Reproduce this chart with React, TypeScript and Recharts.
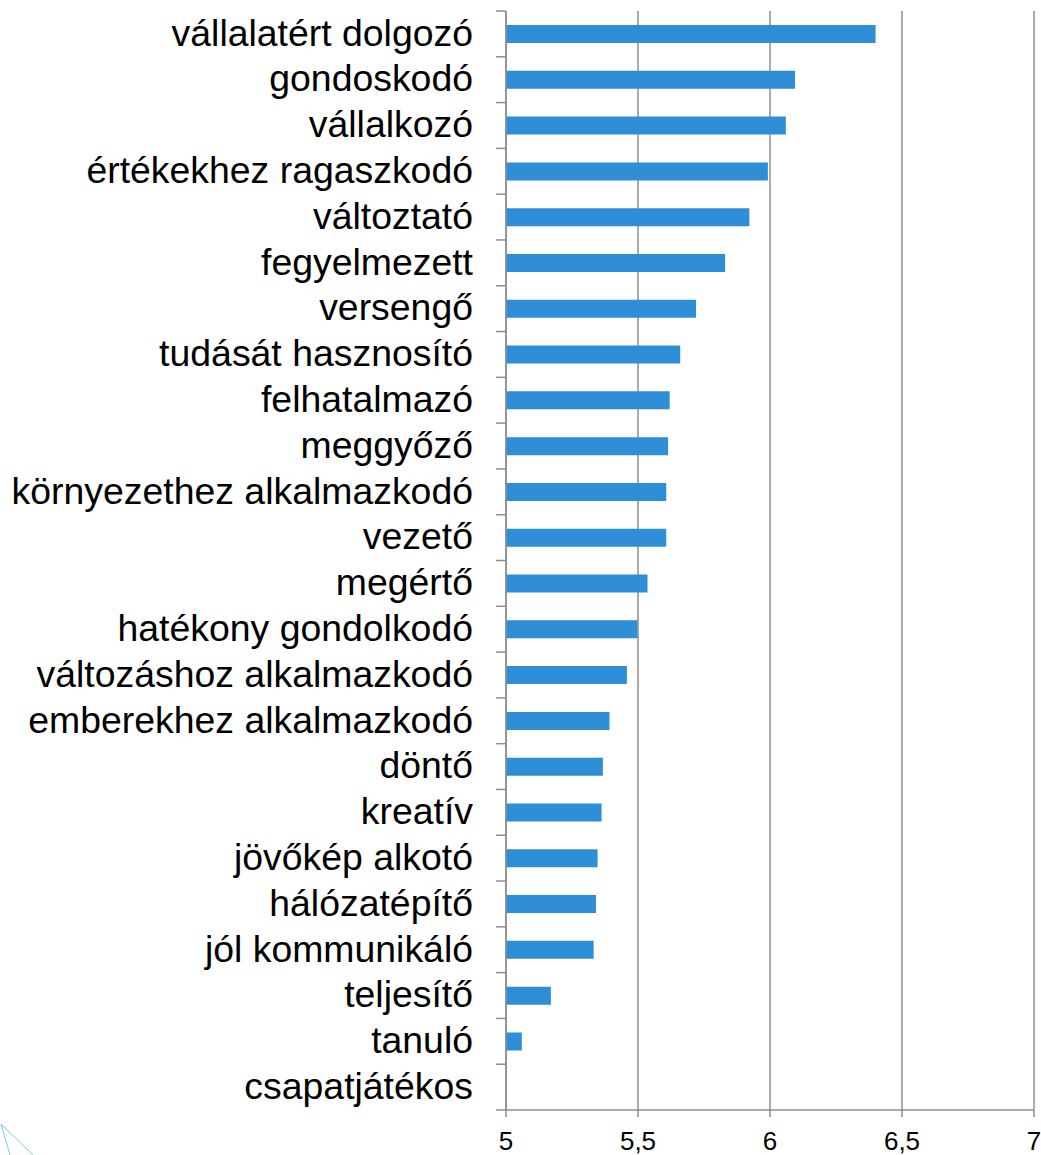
import React from "react";
import { BarChart, Bar, XAxis, YAxis, CartesianGrid } from "recharts";

const categories = [
  "vállalatért dolgozó",
  "gondoskodó",
  "vállalkozó",
  "értékekhez ragaszkodó",
  "változtató",
  "fegyelmezett",
  "versengő",
  "tudását hasznosító",
  "felhatalmazó",
  "meggyőző",
  "környezethez alkalmazkodó",
  "vezető",
  "megértő",
  "hatékony gondolkodó",
  "változáshoz alkalmazkodó",
  "emberekhez alkalmazkodó",
  "döntő",
  "kreatív",
  "jövőkép alkotó",
  "hálózatépítő",
  "jól kommunikáló",
  "teljesítő",
  "tanuló",
  "csapatjátékos",
];

const values = [
  6.4, 6.095, 6.06, 5.992, 5.922, 5.83, 5.72, 5.66, 5.62, 5.614, 5.607, 5.607,
  5.536, 5.498, 5.458, 5.392, 5.367, 5.362, 5.347, 5.341, 5.332, 5.17, 5.06, 5.0,
];

const xTicks = [5, 5.5, 6, 6.5, 7];

const data = categories.map((name, i) => ({ name, value: values[i] }));

const AXIS = "#8e8e8e";
const FONT = "'Liberation Sans', Arial, sans-serif";

const YTick = (props: any) => {
  const { x, y, payload, index } = props;
  const off = payload && payload.offset != null ? payload.offset : 22.9;
  const axisX = x + 33;
  return (
    <g>
      <line x1={axisX - 10} x2={axisX} y1={y - off} y2={y - off} stroke={AXIS} strokeWidth={1.5} />
      {index === categories.length - 1 && (
        <line x1={axisX - 10} x2={axisX} y1={y + off} y2={y + off} stroke={AXIS} strokeWidth={1.5} />
      )}
      <text x={x} y={y} dy={11.8} textAnchor="end" fontSize={37.4} fontFamily={FONT} fill="#000">
        {payload.value}
      </text>
    </g>
  );
};

const XTick = (props: any) => {
  const { x, y, payload } = props;
  return (
    <text x={x} y={y} dy={31} textAnchor="middle" fontSize={26} fontFamily={FONT} fill="#000">
      {String(payload.value).replace(".", ",")}
    </text>
  );
};

export default function App() {
  return (
    <div style={{ position: "absolute", left: 0, top: 0, width: 1041, height: 1155, background: "#fff" }}>
      <BarChart
        width={1041}
        height={1155}
        data={data}
        layout="vertical"
        margin={{ top: 11, right: 7, left: 0, bottom: 5 }}
      >
        <CartesianGrid horizontal={false} vertical={true} stroke={AXIS} strokeWidth={1.5} />
        <XAxis
          type="number"
          domain={[5, 7]}
          ticks={xTicks}
          allowDataOverflow
          height={40}
          tickSize={7}
          tickMargin={2}
          stroke={AXIS}
          strokeWidth={1.5}
          tick={<XTick />}
        />
        <YAxis
          type="category"
          dataKey="name"
          width={506}
          tickLine={false}
          tickSize={10}
          tickMargin={23}
          stroke={AXIS}
          strokeWidth={1.5}
          interval={0}
          tick={<YTick />}
        />
        <Bar dataKey="value" fill="#2f8fd6" barSize={18} isAnimationActive={false} />
      </BarChart>
      <svg
        width={40}
        height={35}
        style={{ position: "absolute", left: 0, top: 1120 }}
      >
        <line x1={1} y1={4} x2={10} y2={35} stroke="#7cc6ee" strokeWidth={1} />
        <line x1={1} y1={4} x2={33} y2={35} stroke="#7cc6ee" strokeWidth={1} />
      </svg>
    </div>
  );
}
